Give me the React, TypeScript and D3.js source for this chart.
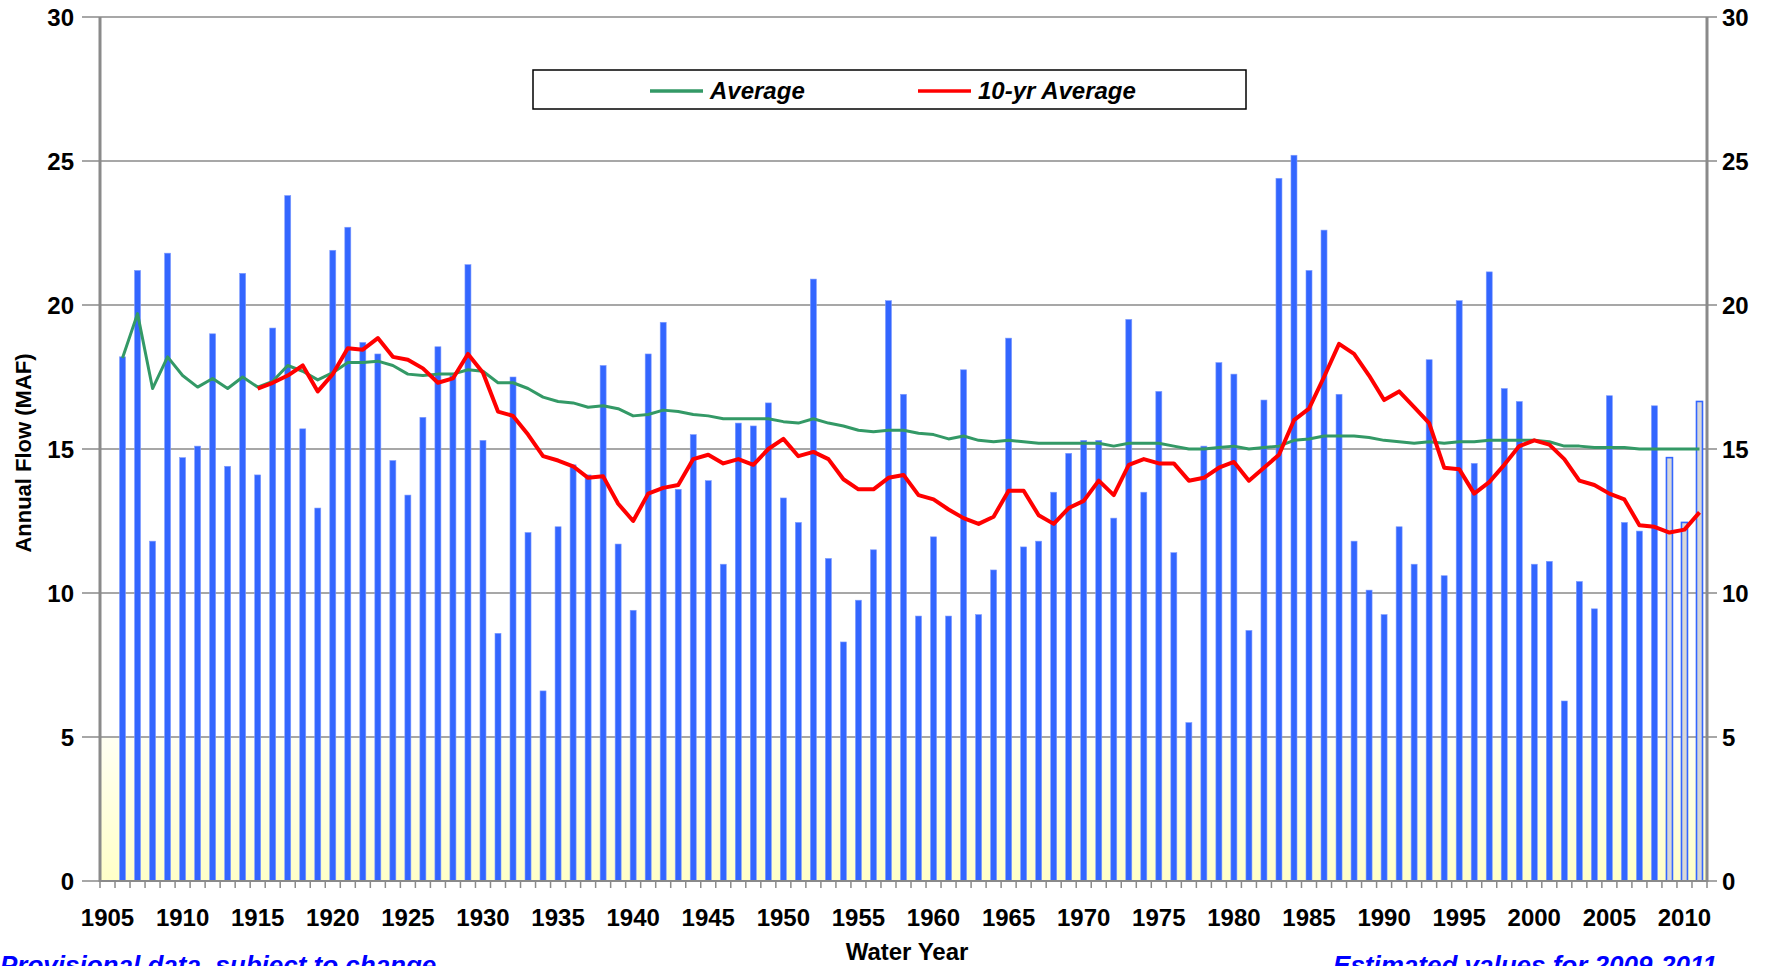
import React from 'react';
import * as d3 from 'd3';

// water years shown on the category axis (1905 is an empty slot)
const axisYears = d3.range(1905, 2012);
const flowYears = d3.range(1906, 2012);

// annual natural flow, million acre-feet
const flow = [
  18.2, 21.2, 11.8, 21.8, 14.7, 15.1, 19.0, 14.4, 21.1, 14.1,
  19.2, 23.8, 15.7, 12.95, 21.9, 22.7, 18.7, 18.3, 14.6, 13.4,
  16.1, 18.55, 17.55, 21.4, 15.3, 8.6, 17.5, 12.1, 6.6, 12.3,
  14.45, 14.1, 17.9, 11.7, 9.4, 18.3, 19.4, 13.6, 15.5, 13.9,
  11.0, 15.9, 15.8, 16.6, 13.3, 12.45, 20.9, 11.2, 8.3, 9.75,
  11.5, 20.15, 16.9, 9.2, 11.95, 9.2, 17.75, 9.25, 10.8, 18.85,
  11.6, 11.8, 13.5, 14.85, 15.3, 15.3, 12.6, 19.5, 13.5, 17.0,
  11.4, 5.5, 15.1, 18.0, 17.6, 8.7, 16.7, 24.4, 25.2, 21.2,
  22.6, 16.9, 11.8, 10.1, 9.25, 12.3, 11.0, 18.1, 10.6, 20.15,
  14.5, 21.15, 17.1, 16.65, 11.0, 11.1, 6.25, 10.4, 9.45, 16.85,
  12.45, 12.15, 16.5, 14.7, 12.45, 16.65,
];

// long-term running average
const average = [
  18.16, 19.7, 17.1, 18.2, 17.55, 17.15, 17.45, 17.1, 17.5, 17.15,
  17.35, 17.9, 17.7, 17.4, 17.65, 18.0, 18.0, 18.05, 17.9, 17.6,
  17.55, 17.6, 17.6, 17.75, 17.7, 17.3, 17.3, 17.1, 16.8, 16.65,
  16.6, 16.45, 16.5, 16.4, 16.15, 16.2, 16.35, 16.3, 16.2, 16.15,
  16.05, 16.05, 16.05, 16.05, 15.95, 15.9, 16.05, 15.9, 15.8, 15.65,
  15.6, 15.65, 15.65, 15.55, 15.5, 15.35, 15.45, 15.3, 15.25, 15.3,
  15.25, 15.2, 15.2, 15.2, 15.2, 15.2, 15.1, 15.2, 15.2, 15.2,
  15.1, 15.0, 15.0, 15.05, 15.1, 15.0, 15.05, 15.1, 15.3, 15.35,
  15.45, 15.45, 15.45, 15.4, 15.3, 15.25, 15.2, 15.25, 15.2, 15.25,
  15.25, 15.3, 15.3, 15.3, 15.3, 15.25, 15.1, 15.1, 15.05, 15.05,
  15.05, 15.0, 15.0, 15.0, 15.0, 15.0,
];

// 10-year moving average, starts in 1915
const tenYrYears = d3.range(1915, 2012);
const tenYrAverage = [
  17.1, 17.3, 17.55, 17.9, 17.0, 17.6, 18.5, 18.45, 18.85, 18.2,
  18.1, 17.8, 17.3, 17.45, 18.3, 17.65, 16.3, 16.15, 15.5, 14.75,
  14.6, 14.4, 14.0, 14.05, 13.1, 12.5, 13.45, 13.65, 13.75, 14.65,
  14.8, 14.5, 14.65, 14.45, 15.0, 15.35, 14.75, 14.9, 14.65, 13.95,
  13.6, 13.6, 14.0, 14.1, 13.4, 13.25, 12.9, 12.6, 12.4, 12.65,
  13.55, 13.55, 12.7, 12.4, 12.95, 13.2, 13.9, 13.4, 14.45, 14.65,
  14.5, 14.5, 13.9, 14.0, 14.35, 14.55, 13.9, 14.35, 14.8, 16.0,
  16.4, 17.5, 18.65, 18.3, 17.55, 16.7, 17.0, 16.45, 15.9, 14.35,
  14.3, 13.45, 13.85, 14.45, 15.1, 15.3, 15.15, 14.65, 13.9, 13.75,
  13.45, 13.25, 12.35, 12.3, 12.1, 12.2, 12.8,
];

const estimatedYears = [2009, 2010, 2011];
const yTicks = [0, 5, 10, 15, 20, 25, 30];
const xLabels = [1905, 1910, 1915, 1920, 1925, 1930, 1935, 1940, 1945, 1950, 1955,
  1960, 1965, 1970, 1975, 1980, 1985, 1990, 1995, 2000, 2005, 2010];

const font = '"Liberation Sans", Arial, Helvetica, sans-serif';

export default function App() {
  const width = 1777, height = 966;
  const left = 100, right = 1707, top = 17, bottom = 881;

  const x = d3.scaleBand<number>().domain(axisYears).range([left, right]).padding(0);
  const y = d3.scaleLinear().domain([0, 30]).range([bottom, top]);
  const cx = (yr: number) => (x(yr) as number) + x.bandwidth() / 2;
  const barW = 6;

  const avgPath = d3.line<number>()
    .x((d, i) => cx(flowYears[i]))
    .y(d => y(d))(average);
  const tenPath = d3.line<number>()
    .x((d, i) => cx(tenYrYears[i]))
    .y(d => y(d))(tenYrAverage);

  const boundaries = d3.range(axisYears.length + 1).map(i => left + i * x.step());

  return (
    <div style={{position: 'absolute', left: 0, top: 0, width, height, overflow: 'hidden', background: '#fff'}}>
      <svg width={width} height={height} style={{display: 'block'}} fontFamily={font}>
        <defs>
          <linearGradient id="floor" x1="0" y1="0" x2="0" y2="1">
            <stop offset="0" stopColor="#fffff2" />
            <stop offset="1" stopColor="#ffffc8" />
          </linearGradient>
        </defs>

        {/* pale yellow floor of the plot */}
        <rect x={left} y={y(5)} width={right - left} height={y(0) - y(5)} fill="url(#floor)" />

        {/* gridlines + ticks on both sides */}
        {yTicks.map(t => (
          <g key={t}>
            <line x1={left - 18} x2={right + 10} y1={y(t)} y2={y(t)} stroke="#8a8a8a" strokeWidth={1.6} />
            <text x={74} y={y(t)} dy="0.36em" textAnchor="end" fontSize={24} fontWeight="bold">{t}</text>
            <text x={1722} y={y(t)} dy="0.36em" textAnchor="start" fontSize={24} fontWeight="bold">{t}</text>
          </g>
        ))}

        {/* bars */}
        {flow.map((v, i) => {
          const yr = flowYears[i];
          const est = estimatedYears.includes(yr);
          return (
            <rect key={yr} x={cx(yr) - barW / 2} y={y(v)} width={barW} height={y(0) - y(v)}
              fill={est ? '#d8d8d8' : '#3366ff'}
              stroke={est ? '#3366ff' : '#7f9cff'} strokeWidth={est ? 1.6 : 0.6} />
          );
        })}

        {/* lines */}
        <path d={avgPath || ''} fill="none" stroke="#339966" strokeWidth={3} strokeLinejoin="round" />
        <path d={tenPath || ''} fill="none" stroke="#ff0000" strokeWidth={4} strokeLinejoin="round" />

        {/* axes */}
        <line x1={left} x2={left} y1={top} y2={bottom + 1} stroke="#8a8a8a" strokeWidth={3} />
        <line x1={right} x2={right} y1={top} y2={bottom + 1} stroke="#8a8a8a" strokeWidth={3} />
        <line x1={left} x2={right} y1={bottom} y2={bottom} stroke="#8a8a8a" strokeWidth={2} />
        {boundaries.map((b, i) => (
          <line key={i} x1={b} x2={b} y1={bottom} y2={bottom + 7} stroke="#8a8a8a" strokeWidth={1.5} />
        ))}
        {xLabels.map(yr => (
          <text key={yr} x={cx(yr)} y={926} textAnchor="middle" fontSize={24} fontWeight="bold">{yr}</text>
        ))}

        {/* axis titles */}
        <text transform="translate(31,453) rotate(-90)" textAnchor="middle" fontSize={22} fontWeight="bold">Annual Flow (MAF)</text>
        <text x={907} y={960} textAnchor="middle" fontSize={24} fontWeight="bold">Water Year</text>

        {/* legend */}
        <rect x={533} y={70} width={713} height={39} fill="#fff" stroke="#000" strokeWidth={1.5} />
        <line x1={650} x2={703} y1={91} y2={91} stroke="#339966" strokeWidth={3.5} />
        <text x={710} y={99} fontSize={24} fontWeight="bold" fontStyle="italic">Average</text>
        <line x1={918} x2={971} y1={91} y2={91} stroke="#ff0000" strokeWidth={3.5} />
        <text x={978} y={99} fontSize={24} fontWeight="bold" fontStyle="italic">10-yr Average</text>

        {/* footnotes, cut by the page edge as in the original */}
        <text x={0} y={974} fontSize={26} fontWeight="bold" fontStyle="italic" fill="#0000ff">Provisional data,  subject  to  change</text>
        <text x={1717} y={974} textAnchor="end" fontSize={26} fontWeight="bold" fontStyle="italic" fill="#0000ff">Estimated values  for 2009-2011</text>
      </svg>
    </div>
  );
}
